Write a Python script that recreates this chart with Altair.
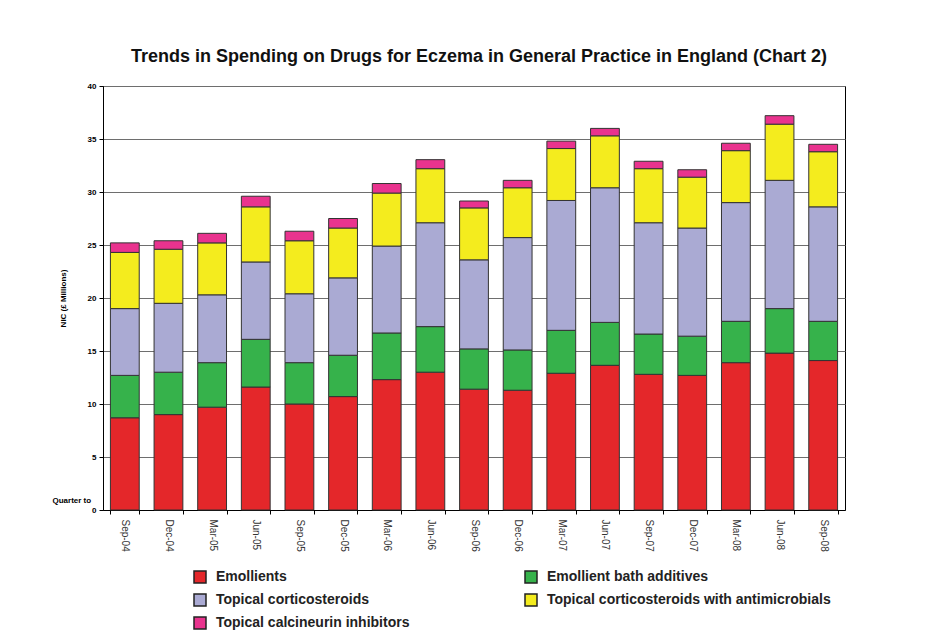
import altair as alt
import pandas as pd

quarters = ["Sep-04", "Dec-04", "Mar-05", "Jun-05", "Sep-05", "Dec-05", "Mar-06", "Jun-06",
            "Sep-06", "Dec-06", "Mar-07", "Jun-07", "Sep-07", "Dec-07", "Mar-08", "Jun-08", "Sep-08"]

# stacking order, bottom to top
series_names = ["Emollients", "Emollient bath additives", "Topical corticosteroids",
                "Topical corticosteroids with antimicrobials", "Topical calcineurin inhibitors"]
series_colors = ["#e4272a", "#36b24b", "#aaaad3", "#f4ec1e", "#e9338e"]

# legend order (filled column by column, as in the reference)
legend_order = ["Emollients", "Topical corticosteroids", "Topical calcineurin inhibitors",
                "Emollient bath additives", "Topical corticosteroids with antimicrobials"]

emollients = [8.7, 9.0, 9.7, 11.6, 10.0, 10.7, 12.3, 13.0, 11.4, 11.3, 12.9, 13.65, 12.8, 12.7, 13.9, 14.8, 14.1]
bath_additives = [4.0, 4.0, 4.2, 4.5, 3.9, 3.9, 4.4, 4.3, 3.8, 3.8, 4.05, 4.05, 3.8, 3.7, 3.9, 4.2, 3.7]
corticosteroids = [6.3, 6.5, 6.4, 7.3, 6.5, 7.3, 8.2, 9.8, 8.4, 10.6, 12.25, 12.7, 10.5, 10.2, 11.2, 12.1, 10.8]
cortico_antimicrobials = [5.3, 5.1, 4.9, 5.2, 5.0, 4.7, 5.0, 5.1, 4.9, 4.7, 4.9, 4.9, 5.1, 4.8, 4.9, 5.3, 5.2]
calcineurin = [0.9, 0.8, 0.9, 1.0, 0.9, 0.9, 0.9, 0.85, 0.65, 0.7, 0.7, 0.7, 0.7, 0.7, 0.7, 0.8, 0.7]

series_values = [emollients, bath_additives, corticosteroids, cortico_antimicrobials, calcineurin]
rows = []
for si, (name, vals) in enumerate(zip(series_names, series_values)):
    for q, v in zip(quarters, vals):
        rows.append({"Quarter": q, "Series": name, "Value": v, "Order": si})
df = pd.DataFrame(rows)

color_of = dict(zip(series_names, series_colors))
legend_colors = [color_of[n] for n in legend_order]

FONT = "Liberation Sans"

bars = alt.Chart(df).mark_bar(stroke="#333333", strokeWidth=1).encode(
    x=alt.X("Quarter:N", sort=quarters, scale=alt.Scale(paddingInner=0.34, paddingOuter=0.17),
            axis=alt.Axis(title="Quarter to", titleAngle=0, titleAnchor="start", titleAlign="left",
                          titleBaseline="alphabetic", titleX=-51, titleY=-8,
                          titleFont=FONT, titleFontSize=8, titleFontWeight="bold", titleColor="#000",
                          labelAngle=90, labelAlign="left", labelBaseline="middle",
                          labelFont=FONT, labelFontSize=10, labelColor="#333", labelPadding=5,
                          tickBand="extent", tickSize=4, tickColor="#000", domainColor="#000",
                          grid=False)),
    y=alt.Y("Value:Q", stack="zero",
            scale=alt.Scale(domain=[0, 40], nice=False),
            axis=alt.Axis(title="NIC (£ Millions)", values=list(range(0, 41, 5)),
                          titleFont=FONT, titleFontSize=8, titleFontWeight="bold", titleColor="#000",
                          titlePadding=20,
                          labelFont=FONT, labelFontSize=8, labelFontWeight="bold", labelColor="#000",
                          labelPadding=3, tickSize=4, tickColor="#000", domainColor="#000",
                          gridColor="#6e6e6e", gridWidth=1, gridOpacity=1)),
    color=alt.Color("Series:N", sort=legend_order,
                    scale=alt.Scale(domain=legend_order, range=legend_colors),
                    legend=alt.Legend(title=None, orient="none", legendX=90, legendY=484,
                                      columns=2, columnPadding=112, rowPadding=5,
                                      symbolType="square", symbolSize=144,
                                      symbolStrokeColor="#222", symbolStrokeWidth=1.5,
                                      symbolOpacity=1,
                                      labelFont=FONT, labelFontSize=14, labelFontWeight="bold",
                                      labelColor="#222", labelOffset=9, labelLimit=400)),
    order=alt.Order("Order:Q", sort="ascending"),
)

chart = bars.properties(
    width=742, height=424,
    autosize=alt.AutoSizeParams(type="none"),
    padding={"left": 103, "top": 86, "right": 96, "bottom": 123},
    background="white",
    title=alt.TitleParams("Trends in Spending on Drugs for Eczema in General Practice in England (Chart 2)",
                          font=FONT, fontSize=18, fontWeight="bold", color="#111",
                          anchor="middle", offset=16, dx=5),
).configure_view(stroke="#000", strokeWidth=1)

chart.save("out.html", embed_options={"renderer": "svg", "actions": False})
